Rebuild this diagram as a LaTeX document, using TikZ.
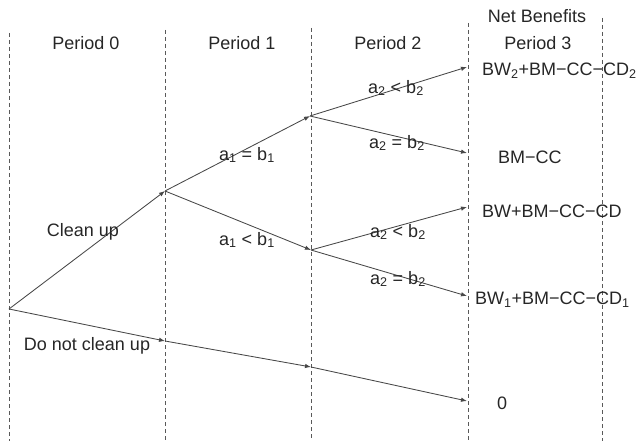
\documentclass[tikz,border=0pt]{standalone}
\usepackage{fontspec}
\setmainfont{Liberation Sans}
\usetikzlibrary{arrows.meta}
\begin{document}
\begin{tikzpicture}[x=1pt,y=-1pt,
  divider/.style={draw=black!65,line width=0.8pt,dash pattern=on 4pt off 3pt},
  branch/.style={draw=black!72,line width=0.85pt,-{Latex[length=6pt,width=4.5pt]}},
  lbl/.style={font=\fontsize{18}{21}\selectfont,text=black!85,inner sep=1pt},
  payoff/.style={lbl,anchor=west}]
\useasboundingbox (0,0) rectangle (637,441);
% period dividers
\coordinate (t0) at (9,33);   \coordinate (b0) at (9,441);
\coordinate (t1) at (165,30); \coordinate (b1) at (165,441);
\coordinate (t2) at (311,28); \coordinate (b2) at (311,441);
\coordinate (t3) at (468,23); \coordinate (b3) at (468,441);
\coordinate (t4) at (602,18); \coordinate (b4) at (602,441);
\foreach \i in {0,...,4} \draw[divider] (t\i) -- (b\i);
% headings
\node[lbl] (h0) at (86,43) {Period 0};
\node[lbl] (h1) at (242,43) {Period 1};
\node[lbl] (h2) at (388,43) {Period 2};
\node[lbl] (h3) at (538,43) {Period 3};
\node[lbl] (nb) at (537,16) {Net Benefits};
% decision points
\coordinate (root) at (9,309);
\coordinate (n1) at (165,191);
\coordinate (n2a) at (310,116);
\coordinate (n2b) at (311,250);
\coordinate (d1) at (165,341);
\coordinate (d2) at (311,367);
\coordinate (l1) at (467,67);
\coordinate (l2) at (467,153);
\coordinate (l3) at (467,207);
\coordinate (l4) at (467,296);
\coordinate (l5) at (467,401);
% branches
\draw[branch] (root) -- (n1);
\draw[branch] (n1) -- (n2a);
\draw[branch] (n1) -- (n2b);
\draw[branch] (n2a) -- (l1);
\draw[branch] (n2a) -- (l2);
\draw[branch] (n2b) -- (l3);
\draw[branch] (n2b) -- (l4);
\draw[branch] (root) -- (d1);
\draw[branch] (d1) -- (d2);
\draw[branch] (d2) -- (l5);
% branch labels
\node[lbl] (cu) at (83,232) {Clean up};
\node[lbl] (dncu) at (87,346) {Do not clean up};
\node[lbl] (e1) at (247,155) {a\textsubscript{1} = b\textsubscript{1}};
\node[lbl] (s1) at (247,240) {a\textsubscript{1} < b\textsubscript{1}};
\node[lbl] (s2a) at (396,88) {a\textsubscript{2} < b\textsubscript{2}};
\node[lbl] (e2a) at (397,143) {a\textsubscript{2} = b\textsubscript{2}};
\node[lbl] (s2b) at (398,232) {a\textsubscript{2} < b\textsubscript{2}};
\node[lbl] (e2b) at (398,279) {a\textsubscript{2} = b\textsubscript{2}};
% payoffs
\node[payoff] (p1) at (481,71) {BW\textsubscript{2}+BM−CC−CD\textsubscript{2}};
\node[payoff] (p2) at (497,157) {BM−CC};
\node[payoff] (p3) at (481,211) {BW+BM−CC−CD};
\node[payoff] (p4) at (474,300) {BW\textsubscript{1}+BM−CC−CD\textsubscript{1}};
\node[lbl] (p5) at (502,403) {0};
\end{tikzpicture}
\end{document}
